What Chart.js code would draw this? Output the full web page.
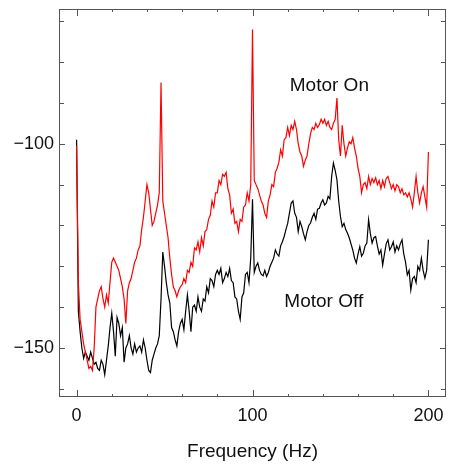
<!DOCTYPE html>
<html lang="en">
<head>
  <meta charset="UTF-8">
  <title>Motor On / Motor Off spectrum</title>
  <script src="https://cdn.jsdelivr.net/npm/chart.js"></script>
  <style>
    html, body { margin: 0; padding: 0; background: #fff; }
    #wrap { width: 453px; height: 469px; }
  </style>
</head>
<body>
  <div id="wrap"><canvas id="spectrumChart" width="453" height="469"></canvas></div>

  <script>
    // Frequency axis (Hz), 1 Hz steps
    const freqHz = [
      0,1,2,3,4,5,6,7,8,9,10,11,12,13,14,15,16,17,18,19,
      20,21,22,23,24,25,26,27,28,29,30,31,32,33,34,35,36,37,38,39,
      40,41,42,43,44,45,46,47,48,49,50,51,52,53,54,55,56,57,58,59,
      60,61,62,63,64,65,66,67,68,69,70,71,72,73,74,75,76,77,78,79,
      80,81,82,83,84,85,86,87,88,89,90,91,92,93,94,95,96,97,98,99,
      100,101,102,103,104,105,106,107,108,109,110,111,112,113,114,115,116,117,118,119,
      120,121,122,123,124,125,126,127,128,129,130,131,132,133,134,135,136,137,138,139,
      140,141,142,143,144,145,146,147,148,149,150,151,152,153,154,155,156,157,158,159,
      160,161,162,163,164,165,166,167,168,169,170,171,172,173,174,175,176,177,178,179,
      180,181,182,183,184,185,186,187,188,189,190,191,192,193,194,195,196,197,198,199,
      200
    ];

    // Motor On (red)
    const motorOn = [
      -100.5,-134,-143,-146,-149,-151,-153,-155,-154.5,-155.5,
      -150,-140,-138,-136,-135,-138,-140,-137,-139,-134,
      -129,-128,-129,-130,-131,-133,-135,-138,-144,-136,
      -134,-133,-131,-129,-128,-126,-125,-121,-118,-114,
      -110,-112,-116,-120,-119,-117,-115,-112,-85,-114,
      -117,-120,-123,-128,-132,-135,-136,-137.5,-136,-135,
      -134.5,-133,-134,-131,-131.5,-129,-130,-125.5,-126,-124,
      -126.5,-123,-125,-121.5,-121,-118.5,-117.5,-114,-115.5,-112,
      -112,-109,-110,-107.5,-108,-107,-111,-112.5,-117,-116,
      -119.5,-119,-121.5,-118.5,-119,-115.5,-115,-112,-114,-110,
      -72,-109,-110,-111,-112.5,-114,-115,-117,-118,-114,
      -112.5,-110,-110.5,-107,-106,-104.5,-101.5,-103,-99,-98.5,
      -96,-98,-95.5,-96.5,-94.5,-96.5,-100,-102,-103,-105.5,
      -104,-103,-100,-97.5,-96,-96.5,-95,-96,-95.3,-94,
      -95,-94,-95.5,-94.5,-96,-96.5,-95,-94,-88.8,-99,
      -103,-95.5,-100,-103,-101,-99.5,-100,-98.5,-101,-103,
      -106,-108,-112,-110,-109.5,-111,-108,-110,-108.5,-109.5,
      -108.3,-110,-109,-111,-109,-110.5,-108.5,-108,-109.5,-111,
      -110,-111.5,-110,-110.5,-112,-111,-112.5,-112,-113,-112,
      -113.5,-115.5,-112,-108,-112,-114.5,-112,-110.5,-113,-115.5,
      -102
    ];

    // Motor Off (black)
    const motorOff = [
      -99,-141,-146,-150,-152.5,-151,-152,-153,-151,-152.5,
      -154,-153.5,-155,-155.5,-153,-154,-156.5,-153,-149.5,-145,
      -141.5,-146,-152,-142.5,-144,-147,-145,-153.5,-150,-149,
      -147,-150,-151.5,-149,-151,-150,-149.5,-151,-148,-150,
      -153,-155.5,-156,-153,-151.5,-150,-149,-147,-138,-126.5,
      -130,-134,-137,-139,-145,-146,-148,-149.5,-146,-144,
      -143,-145.5,-141,-137,-141,-146,-140,-139.5,-141,-137.5,
      -140,-141,-138,-138.5,-135,-136.5,-133,-133.5,-135,-132,
      -131,-132,-130.5,-134,-133,-131.5,-132.5,-130.5,-133.5,-134,
      -137.5,-138,-141,-143,-137.5,-136.5,-132,-131.5,-134,-128,
      -113.6,-131.5,-130,-129.2,-131,-132,-132.3,-131,-132.5,-131.5,
      -130,-129,-128,-126,-127,-127.5,-125,-124,-122.7,-121,
      -119.5,-117,-114.5,-114,-117,-118,-121.5,-119,-120.3,-122,
      -123.5,-121.5,-120,-119.4,-118,-117,-118.5,-116,-115.8,-114.5,
      -113.7,-115,-114.5,-112.9,-113.5,-108,-104.7,-106.5,-108.8,-114,
      -117.8,-120.3,-119.5,-121,-121.9,-123,-124.5,-126,-128,-129.2,
      -127,-125.2,-127.5,-126.8,-125,-124.3,-118.6,-122,-124.3,-123,
      -122.7,-125,-127,-126,-129.7,-127,-124.5,-123.5,-126,-125.2,
      -124,-126.5,-125,-126,-124.5,-123.5,-127,-129,-132.1,-131,
      -135.8,-133,-132.5,-134,-130,-131,-128,-131,-132.9,-131,
      -123.5
    ];

    // Ticks
    const xMajorTicks = [0, 100, 200];
    const xMinorTicks = [20, 40, 60, 80, 120, 140, 160, 180];
    const yMajorTicks = [-100, -150];
    const yMinorTicks = [-70, -80, -90, -110, -120, -130, -140, -160];

    // Curve labels: [text, freq, level]
    const curveLabels = [
      ['Motor On', 143.7, -85.8],
      ['Motor Off', 140.5, -138.6]
    ];

    const FONT = '"Liberation Sans", Arial, Helvetica, sans-serif';

    function toPoints(ys) {
      return ys.map((y, i) => ({ x: freqHz[i], y: y }));
    }

    // frame, inward ticks on all four sides, and curve labels
    const framePlugin = {
      id: 'frame',
      afterDraw(chart) {
        const { ctx, chartArea: a, scales } = chart;
        const xs = scales.x, ys = scales.y;
        ctx.save();
        ctx.strokeStyle = '#555';
        ctx.lineWidth = 1;
        ctx.strokeRect(a.left + 0.5, a.top + 0.5, a.right - a.left - 1, a.bottom - a.top - 1);

        ctx.beginPath();
        const xTick = (v, len) => {
          const px = Math.round(xs.getPixelForValue(v)) + 0.5;
          ctx.moveTo(px, a.bottom); ctx.lineTo(px, a.bottom - len);
          ctx.moveTo(px, a.top); ctx.lineTo(px, a.top + len);
        };
        const yTick = (v, len) => {
          const py = Math.round(ys.getPixelForValue(v)) + 0.5;
          ctx.moveTo(a.left, py); ctx.lineTo(a.left + len, py);
          ctx.moveTo(a.right, py); ctx.lineTo(a.right - len, py);
        };
        xMajorTicks.forEach(v => xTick(v, 7));
        xMinorTicks.forEach(v => xTick(v, 3));
        yMajorTicks.forEach(v => yTick(v, 6));
        yMinorTicks.forEach(v => yTick(v, 5));
        ctx.stroke();

        ctx.fillStyle = '#111';
        ctx.font = '19px ' + FONT;
        ctx.textAlign = 'center';
        ctx.textBaseline = 'middle';
        curveLabels.forEach(([t, fx, fy]) => {
          ctx.fillText(t, xs.getPixelForValue(fx), ys.getPixelForValue(fy));
        });
        ctx.restore();
      }
    };

    const ctx = document.getElementById('spectrumChart').getContext('2d');
    const spectrumChart = new Chart(ctx, {
      type: 'line',
      data: {
        datasets: [
          {
            label: 'Motor On',
            data: toPoints(motorOn),
            borderColor: '#ff0000',
            borderWidth: 1.2,
            pointRadius: 0,
            tension: 0,
            fill: false
          },
          {
            label: 'Motor Off',
            data: toPoints(motorOff),
            borderColor: '#000000',
            borderWidth: 1.2,
            pointRadius: 0,
            tension: 0,
            fill: false
          }
        ]
      },
      options: {
        responsive: false,
        animation: false,
        layout: { padding: { top: 9, right: 7, left: 0, bottom: 0 } },
        plugins: {
          legend: { display: false },
          tooltip: { enabled: false }
        },
        scales: {
          x: {
            type: 'linear',
            min: -10,
            max: 210,
            grid: { display: false, drawTicks: false },
            border: { display: false },
            afterBuildTicks: s => { s.ticks = xMajorTicks.map(v => ({ value: v })); },
            afterFit: s => { s.height = 72; s.paddingLeft = 0; s.paddingRight = 0; },
            ticks: {
              padding: 8,
              maxRotation: 0,
              color: '#111',
              font: { family: FONT, size: 18 },
              callback: v => String(v)
            },
            title: {
              display: true,
              text: 'Frequency (Hz)',
              color: '#111',
              font: { family: FONT, size: 19 },
              padding: { top: 0, bottom: 6 }
            }
          },
          y: {
            min: -162,
            max: -67,
            grid: { display: false, drawTicks: false },
            border: { display: false },
            afterBuildTicks: s => { s.ticks = yMajorTicks.map(v => ({ value: v })); },
            afterFit: s => { s.width = 59; s.paddingTop = 0; s.paddingBottom = 0; },
            ticks: {
              padding: 5,
              color: '#111',
              font: { family: FONT, size: 18 },
              callback: v => String(v).replace('-', '\u2212')
            }
          }
        }
      },
      plugins: [framePlugin]
    });
  </script>
</body>
</html>
